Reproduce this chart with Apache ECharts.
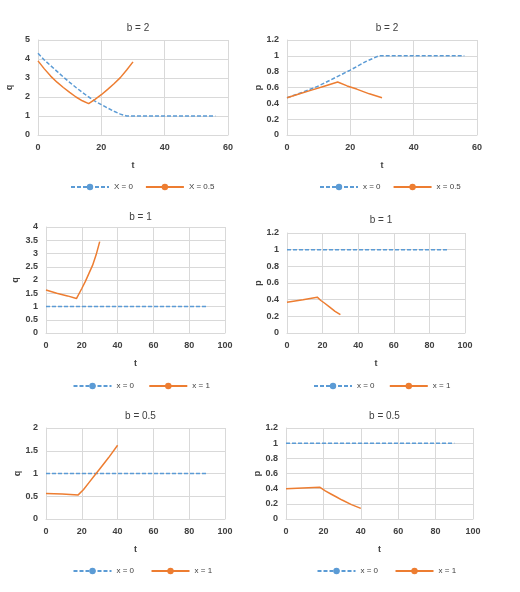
<!DOCTYPE html><html><head><meta charset="utf-8"><script src="https://cdn.jsdelivr.net/npm/echarts@6/dist/echarts.min.js"></script></head><body style="margin:0"><div id="c" style="width:520px;height:592px"></div><script>
const q2a=[[0,4.3],[2,3.95],[4,3.65],[6,3.35],[8,3.05],[10,2.77],[12,2.5],[14,2.24],[16,2.0],[18,1.78],[20,1.6],[22,1.42],[24,1.25],[26,1.1],[28,1.0],[40,1.0],[56,1.0]];
const q2b=[[0,3.9],[2,3.48],[4,3.1],[6,2.78],[8,2.5],[10,2.24],[12,2.0],[14,1.8],[16,1.65],[18,1.88],[20,2.12],[22,2.4],[24,2.7],[26,3.02],[28,3.42],[30,3.85]];
const p2a=[[0,0.47],[5,0.54],[10,0.62],[15,0.72],[20,0.82],[25,0.93],[29,1.0],[40,1.0],[56,1.0]];
const p2b=[[0,0.47],[4,0.52],[8,0.57],[12,0.62],[16,0.67],[19,0.62],[22,0.58],[26,0.52],[30,0.47]];
const q1a=[[0,1],[90,1]];
const q1b=[[0,1.62],[6,1.5],[12,1.4],[17,1.3],[20,1.68],[22,1.95],[24,2.25],[26,2.55],[28,2.95],[30,3.45]];
const p1a=[[0,1],[90,1]];
const p1b=[[0,0.37],[9,0.4],[17,0.43],[19,0.39],[21,0.36],[24,0.31],[27,0.26],[30,0.22]];
const q05a=[[0,1],[90,1]];
const q05b=[[0,0.56],[9,0.55],[18,0.53],[21,0.65],[24,0.8],[27,0.95],[30,1.1],[35,1.35],[40,1.62]];
const p05a=[[0,1],[90,1]];
const p05b=[[0,0.4],[9,0.41],[18,0.42],[21,0.37],[24,0.33],[27,0.29],[30,0.25],[35,0.19],[40,0.14]];
const panels=[
 {t:'b = 2',y:'q',g:[38,40,228,135],xmax:60,xi:20,ymax:5,yi:1,a:q2a,b:q2b,n:['X = 0','X = 0.5'],ty:18,ly:178},
 {t:'b = 2',y:'p',g:[287,40,477,135],xmax:60,xi:20,ymax:1.2,yi:0.2,a:p2a,b:p2b,n:['x = 0','x = 0.5'],ty:18,ly:178},
 {t:'b = 1',y:'q',g:[46,227,225,333],xmax:100,xi:20,ymax:4,yi:0.5,a:q1a,b:q1b,n:['x = 0 ','x = 1'],ty:207,ly:377},
 {t:'b = 1',y:'p',g:[287,233,465,333],xmax:100,xi:20,ymax:1.2,yi:0.2,a:p1a,b:p1b,n:['x = 0 ','x = 1'],ty:210,ly:377},
 {t:'b = 0.5',y:'q',g:[46,428,225,519],xmax:100,xi:20,ymax:2,yi:0.5,a:q05a,b:q05b,n:['x = 0  ','x = 1 '],ty:406,ly:562},
 {t:'b = 0.5',y:'p',g:[286,428,473,519],xmax:100,xi:20,ymax:1.2,yi:0.2,a:p05a,b:p05b,n:['x = 0  ','x = 1 '],ty:406,ly:562}];
const txt={color:'#404040',fontSize:9,fontFamily:'Liberation Sans'};
const o={animation:false,backgroundColor:'#fff',title:[],grid:[],xAxis:[],yAxis:[],series:[],legend:[]};
panels.forEach((p,i)=>{
 const [l,t,r,b]=p.g, cx=(l+r)/2;
 o.title.push({text:p.t,left:cx,top:p.ty,textAlign:'center',textStyle:{...txt,fontSize:10,fontWeight:'normal'}});
 o.grid.push({left:l,top:t,width:r-l,height:b-t});
 o.xAxis.push({type:'value',gridIndex:i,min:0,max:p.xmax,interval:p.xi,name:'t',nameLocation:'middle',nameGap:26,nameTextStyle:{...txt,fontWeight:'bold'},axisLabel:{...txt,fontWeight:'bold'},axisLine:{lineStyle:{color:'#d9d9d9'}},axisTick:{show:false},splitLine:{lineStyle:{color:'#d9d9d9'}}});
 o.yAxis.push({type:'value',gridIndex:i,min:0,max:p.ymax,interval:p.yi,name:p.y,nameLocation:'middle',nameGap:p.ymax==4?26:24,nameTextStyle:{...txt,fontWeight:'bold'},axisLabel:{...txt,fontWeight:'bold'},axisLine:{show:true,lineStyle:{color:'#d9d9d9'}},axisTick:{show:false},splitLine:{lineStyle:{color:'#d9d9d9'}}});
 o.series.push({type:'line',name:p.n[0],xAxisIndex:i,yAxisIndex:i,data:p.a,symbol:'none',lineStyle:{color:'#5b9bd5',width:1.5,type:[4,2]},itemStyle:{color:'#5b9bd5'}});
 o.series.push({type:'line',name:p.n[1],xAxisIndex:i,yAxisIndex:i,data:p.b,symbol:'none',lineStyle:{color:'#ed7d31',width:1.5},itemStyle:{color:'#ed7d31'}});
 o.legend.push({data:p.n,left:cx-68,top:p.ly,itemWidth:38,itemHeight:8,itemGap:12,textStyle:{...txt,fontSize:8}});
});
const ch=echarts.init(document.getElementById('c'));ch.setOption(o);
</script></body></html>
